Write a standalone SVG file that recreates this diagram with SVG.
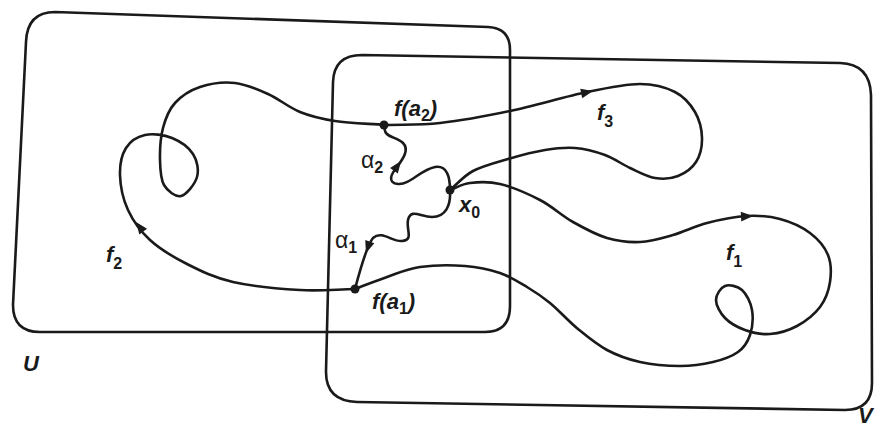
<svg xmlns="http://www.w3.org/2000/svg" width="878" height="428" viewBox="0 0 878 428">
<style>
.ln{fill:none;stroke:#1a1a1a;stroke-width:2.6;stroke-linejoin:round;stroke-linecap:round}
.bx{fill:none;stroke:#1a1a1a;stroke-width:2.6;stroke-linejoin:round}
.ah{fill:#1a1a1a}
.dot{fill:#1a1a1a}
.lb{font-family:"Liberation Sans",Arial,sans-serif;font-weight:bold;font-style:italic;font-size:22px;fill:#1a1a1a}
.gr{font-family:"Liberation Sans",Arial,sans-serif;font-weight:normal;font-style:normal;font-size:23px;fill:#1a1a1a}
.sb{font-family:"Liberation Sans",Arial,sans-serif;font-weight:bold;font-style:normal;font-size:16px}
</style>
<defs>
<polygon id="arr" points="0,0 -12,-4.8 -12,4.8"/>
</defs>
<rect width="878" height="428" fill="#ffffff"/>
<g id="set-U">
<path class="bx" d="M 55,12 L 488,27 Q 510,28 510,50 L 510,306 Q 510,332 485,332 L 40,332 Q 13,332 13,305 L 26,42 Q 27,12 55,12 Z"/>
<text class="lb" x="23" y="371" font-size="24">U</text>
</g>
<g id="set-V">
<path class="bx" d="M 362,55 L 840,63 Q 870,64 871,95 L 872,383 Q 872,410 845,410 L 357,402 Q 326,401 326,372 L 333,82 Q 334,55 362,55 Z"/>
<text class="lb" x="858" y="423" font-size="17">V</text>
</g>
<g id="connectors">
<path id="f2" class="ln" d="M 355,289 C 336.7,289.3 320.3,291.2 300,290 C 279.7,288.8 251.8,286.3 233,282 C 214.2,277.7 200.8,271 187,264 C 173.2,257 159.8,249 150,240 C 140.2,231 133,220.8 128,210 C 123,199.2 120.3,185.3 120,175 C 119.7,164.7 121.8,154.7 126,148 C 130.2,141.3 137.3,136.7 145,135 C 152.7,133.3 164,134.8 172,138 C 180,141.2 188.8,147.5 193,154 C 197.2,160.5 199,170 197,177 C 195,184 186.5,194.7 181,196 C 175.5,197.3 167.5,191 164,185 C 160.5,179 160.2,169.5 160,160 C 159.8,150.5 160.5,137.5 163,128 C 165.5,118.5 168.8,109.8 175,103 C 181.2,96.2 190,90.3 200,87 C 210,83.7 223.7,81.8 235,83 C 246.3,84.2 257.2,89.2 268,94 C 278.8,98.8 288.8,107.5 300,112 C 311.2,116.5 320.8,118.8 335,121 C 349.2,123.2 368.3,123.7 385,125"/>
<path id="f3" class="ln" d="M 385,125 C 403.3,124.3 419.2,125.3 440,123 C 460.8,120.7 485.5,116.2 510,111 C 534.5,105.8 565.3,96.5 587,92 C 608.7,87.5 625.3,84 640,84 C 654.7,84 665.8,87.3 675,92 C 684.2,96.7 690.5,104.3 695,112 C 699.5,119.7 701.8,129.7 702,138 C 702.2,146.3 700,155.7 696,162 C 692,168.3 684.8,173.3 678,176 C 671.2,178.7 663,179.3 655,178 C 647,176.7 638.3,171.8 630,168 C 621.7,164.2 614.2,158.3 605,155 C 595.8,151.7 585,148.8 575,148 C 565,147.2 556.2,148.2 545,150 C 533.8,151.8 520,155.5 508,159 C 496,162.5 482.7,165.8 473,171 C 463.3,176.2 457.7,183.7 450,190"/>
<path id="f1" class="ln" d="M 450,190 C 456.7,187.7 461.7,184 470,183 C 478.3,182 488.3,181.2 500,184 C 511.7,186.8 527.8,193.7 540,200 C 552.2,206.3 561.8,215.7 573,222 C 584.2,228.3 595.8,234.7 607,238 C 618.2,241.3 629,242.5 640,242 C 651,241.5 661.8,238.2 673,235 C 684.2,231.8 694.7,226.2 707,223 C 719.3,219.8 734.8,216.7 747,216 C 759.2,215.3 769.5,216.2 780,219 C 790.5,221.8 802,227 810,233 C 818,239 824.7,246.8 828,255 C 831.3,263.2 831.3,273.3 830,282 C 828.7,290.7 825.5,299.7 820,307 C 814.5,314.3 805.3,321.5 797,326 C 788.7,330.5 778.7,333.3 770,334 C 761.3,334.7 752.5,332.7 745,330 C 737.5,327.3 729.8,323 725,318 C 720.2,313 716,305.3 716,300 C 716,294.7 720.7,287.7 725,286 C 729.3,284.3 737.5,286 742,290 C 746.5,294 750.7,302.5 752,310 C 753.3,317.5 752.3,328 750,335 C 747.7,342 744.2,347.5 738,352 C 731.8,356.5 722.7,359.7 713,362 C 703.3,364.3 692.2,366 680,366 C 667.8,366 652.2,364.7 640,362 C 627.8,359.3 617.3,355.5 607,350 C 596.7,344.5 587.5,336.8 578,329 C 568.5,321.2 558.5,310 550,303 C 541.5,296 535.3,292 527,287 C 518.7,282 510.3,276.5 500,273 C 489.7,269.5 478.3,267 465,266 C 451.7,265 433,265.2 420,267 C 407,268.8 397.8,273.3 387,277 C 376.2,280.7 365.7,285 355,289"/>
<path id="alpha2" class="ln" d="M 385,125 C 382,138 396,136 403,143 C 410,150 402,160 397,167 C 391,174 387,183 398,184 C 410,185 420,170 435,167 C 447,165 450,177 450,190"/>
<path id="alpha1" class="ln" d="M 450,190 C 451,205 446,217 432,217 C 420,217 411,208 408,220 C 406,230 414,240 402,241 C 392,242 382,230 373,238 C 368,244 360,270 355,289"/>
<use href="#arr" class="ah" transform="translate(593,91) rotate(-11.7)"/>
<use href="#arr" class="ah" transform="translate(753,216) rotate(-3)"/>
<use href="#arr" class="ah" transform="translate(136,222) rotate(-126.8)"/>
<use href="#arr" class="ah" transform="translate(401,161) rotate(-54)"/>
<use href="#arr" class="ah" transform="translate(366,253) rotate(108.4)"/>
</g>
<g id="point-fa2">
<circle class="dot" cx="384" cy="125" r="4.5"/>
<text class="lb" x="394" y="116">f(a<tspan class="sb" dy="5">2</tspan><tspan dy="-5">)</tspan></text>
</g>
<g id="point-fa1">
<circle class="dot" cx="355" cy="289" r="4.5"/>
<text class="lb" x="372" y="309">f(a<tspan class="sb" dy="5">1</tspan><tspan dy="-5">)</tspan></text>
</g>
<g id="point-x0">
<circle class="dot" cx="450" cy="190" r="4.5"/>
<text class="lb" x="459" y="212">x<tspan class="sb" dy="6">0</tspan></text>
</g>
<g id="labels">
<text class="gr" x="361" y="168">α<tspan class="sb" dy="5">2</tspan></text>
<text class="gr" x="335" y="248">α<tspan class="sb" dy="5">1</tspan></text>
<text class="lb" x="106" y="262">f<tspan class="sb" dy="7">2</tspan></text>
<text class="lb" x="597" y="120">f<tspan class="sb" dy="7">3</tspan></text>
<text class="lb" x="726" y="260">f<tspan class="sb" dy="7">1</tspan></text>
</g>
</svg>
